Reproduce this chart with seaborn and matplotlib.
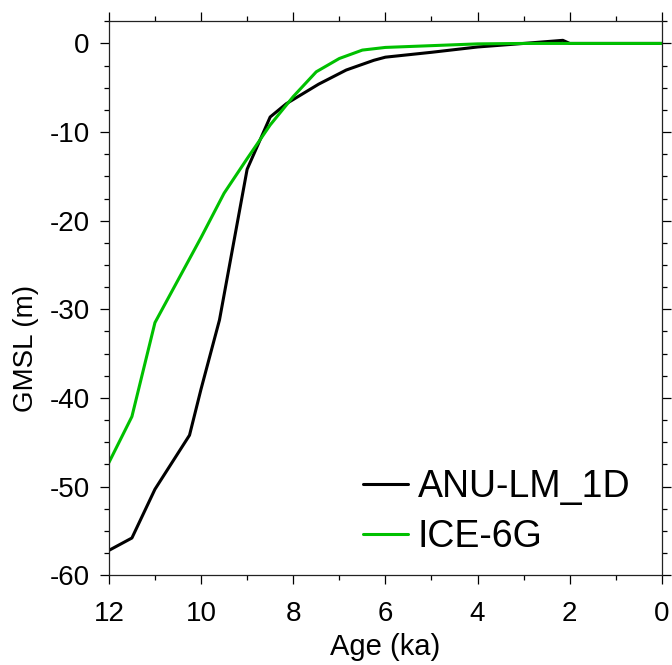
import pandas as pd
import matplotlib
matplotlib.use("Agg")
import matplotlib.pyplot as plt
from matplotlib.ticker import MultipleLocator
import seaborn as sns

# Courbes GMSL
anu_age = [12.0, 11.75, 11.5, 11.0, 10.25, 10.0, 9.6, 9.0, 8.5, 8.15, 7.45, 6.85,
           6.25, 6.0, 5.0, 4.0, 3.0, 2.15, 2.0, 1.0, 0.0]
anu_gmsl = [-57.2, -56.5, -55.8, -50.3, -44.2, -39.0, -31.2, -14.2, -8.3, -6.8, -4.6, -3.0,
            -1.9, -1.55, -1.0, -0.4, 0.0, 0.35, 0.0, 0.0, 0.0]

ice_age = [12.0, 11.5, 11.0, 10.5, 10.0, 9.5, 9.0, 8.5, 8.0, 7.5, 7.0, 6.5,
           6.0, 5.0, 4.0, 3.0, 2.0, 1.0, 0.0]
ice_gmsl = [-47.3, -42.1, -31.5, -26.7, -21.9, -16.9, -13.0, -9.2, -6.0, -3.2, -1.7, -0.75,
            -0.45, -0.25, -0.05, 0.0, 0.0, 0.0, 0.0]

df = pd.concat([
    pd.DataFrame({"Age": anu_age, "GMSL": anu_gmsl, "Model": "ANU-LM_1D"}),
    pd.DataFrame({"Age": ice_age, "GMSL": ice_gmsl, "Model": "ICE-6G"}),
], ignore_index=True)

sns.set_style("ticks")
plt.rcParams['font.family'] = ['Liberation Sans', 'DejaVu Sans']
plt.rcParams['axes.unicode_minus'] = False
plt.rcParams['text.color'] = 'black'
plt.rcParams['axes.labelcolor'] = 'black'
plt.rcParams['xtick.color'] = 'black'
plt.rcParams['ytick.color'] = 'black'

fig = plt.figure(figsize=(6.72, 6.65), dpi=100)
ax = fig.add_axes([0.162, 0.135, 0.823, 0.833])

sns.lineplot(data=df, x="Age", y="GMSL", hue="Model", sort=False,
             palette={"ANU-LM_1D": "black", "ICE-6G": "#00C000"},
             linewidth=2.2, ax=ax)

ax.set_xlim(12, 0)
ax.set_ylim(-60, 2.5)
ax.xaxis.set_major_locator(MultipleLocator(2))
ax.xaxis.set_minor_locator(MultipleLocator(1))
ax.yaxis.set_major_locator(MultipleLocator(10))
ax.yaxis.set_minor_locator(MultipleLocator(2.5))
ax.tick_params(which='both', direction='out', top=True, right=True, width=0.9)
ax.tick_params(which='major', length=6.7, labelsize=20)
ax.tick_params(which='minor', length=3.8)
ax.tick_params(axis='x', which='major', pad=12)
ax.tick_params(axis='y', which='major', pad=7)
for s in ax.spines.values():
    s.set_linewidth(0.9)
    s.set_color('#222222')

ax.set_xlabel("Age (ka)", fontsize=21, labelpad=4)
ax.set_ylabel("GMSL (m)", fontsize=20)
ax.yaxis.set_label_coords(-0.127, 0.41)

ax.legend(loc='lower right', bbox_to_anchor=(0.97, 0.01), frameon=False, fontsize=27,
          handlelength=1.2, handletextpad=0.25, labelspacing=0.37, borderaxespad=0)

fig.savefig("out.png", dpi=100)
